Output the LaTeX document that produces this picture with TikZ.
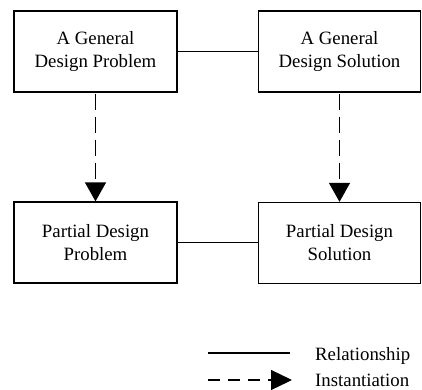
\documentclass[tikz,border=0pt]{standalone}
\usepackage{fontspec}
\setmainfont{Liberation Serif}
\usetikzlibrary{arrows.meta}
\begin{document}
\begin{tikzpicture}[x=1pt,y=-1pt,
  box/.style={draw,line width=1.3pt,minimum width=163pt,minimum height=81pt,
    inner sep=0pt,align=center,font=\fontsize{18.8}{23}\selectfont},
  rel/.style={line width=1.3pt},
  inst/.style={line width=1.3pt,dash pattern=on 16pt off 7pt,
    -{Triangle[width=21pt,length=19pt]}},
  legtext/.style={anchor=base west,inner sep=0pt,font=\fontsize{18.8}{23}\selectfont}]
  \useasboundingbox (0,0) rectangle (422,389);
  % design problem / solution boxes
  \node[box] (gp) at (95.5,51.5) {A General\\Design Problem};
  \node[box,minimum width=162pt] (gs) at (339.5,51.5) {A General\\Design Solution};
  \node[box] (pp) at (95.5,242.5) {Partial Design\\Problem};
  \node[box,minimum width=162pt] (ps) at (339.5,243) {Partial Design\\Solution};
  % relationships
  \draw[rel] (gp) -- (gs);
  \draw[rel] (pp) -- (pp -| ps.west);
  % instantiations
  \draw[inst] (gp.south) ++(0,1) -- (pp.north);
  \draw[inst] (gs.south) ++(0,1) -- (ps.north);
  % legend
  \coordinate (la) at (208,353);
  \coordinate (lb) at (290,353);
  \coordinate (lc) at (208,380);
  \coordinate (ld) at (292,380);
  \draw[rel] (la) -- (lb);
  \draw[line width=1.3pt,dash pattern=on 12pt off 8pt,
    -{Triangle[width=20pt,length=21pt]}] (lc) -- (ld);
  \node[legtext] (lrel) at (315,360) {Relationship};
  \node[legtext] (linst) at (315,386) {Instantiation};
\end{tikzpicture}
\end{document}
